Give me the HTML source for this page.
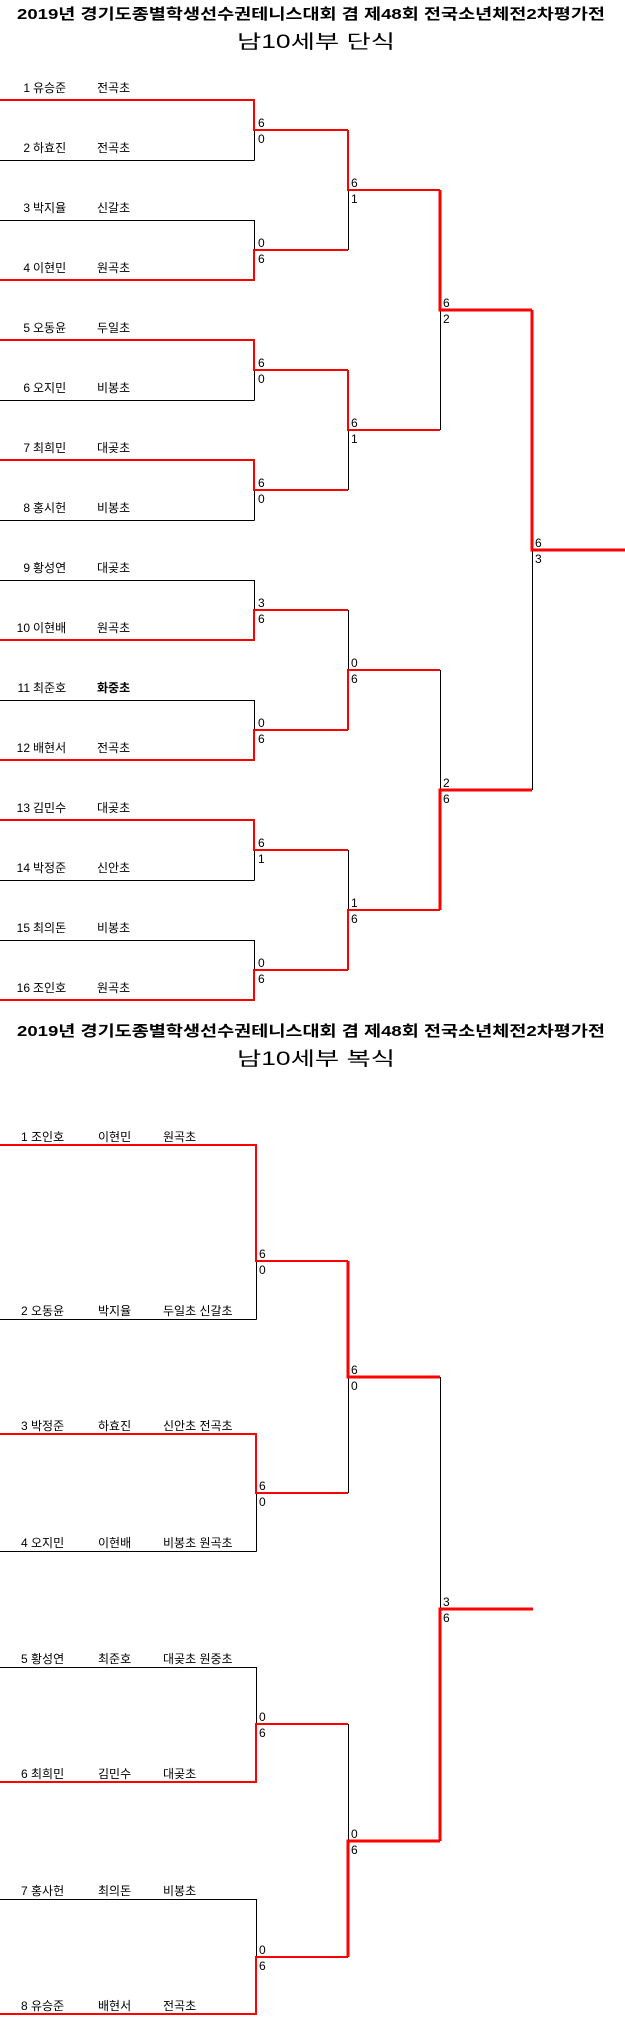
<!DOCTYPE html>
<html><head><meta charset="utf-8"><style>
html,body{margin:0;padding:0;background:#fff;}
svg{display:block;}
text{font-family:"Liberation Sans","Noto Sans CJK KR",sans-serif;font-size:12px;fill:#000;}
.t{font-size:15px;font-weight:bold;}
.s{font-size:19px;}
</style></head><body>
<svg width="625" height="2044" viewBox="0 0 625 2044" xmlns="http://www.w3.org/2000/svg" shape-rendering="crispEdges">
<!-- Singles titles -->
<text class="t" x="17" y="19" textLength="588" lengthAdjust="spacingAndGlyphs">2019년 경기도종별학생선수권테니스대회 겸 제48회 전국소년체전2차평가전</text>
<text class="s" x="237" y="48" textLength="158" lengthAdjust="spacingAndGlyphs">남10세부 단식</text>

<!-- Singles black lines -->
<g stroke="#000" stroke-width="1" fill="none">
<path d="M0 160.5H254.5M254.5 130V160.5"/>
<path d="M0 220.5H254.5M254.5 220V250"/>
<path d="M0 400.5H254.5M254.5 370V400.5"/>
<path d="M0 520.5H254.5M254.5 490V520.5"/>
<path d="M0 580.5H254.5M254.5 580V610"/>
<path d="M0 700.5H254.5M254.5 700V730"/>
<path d="M0 880.5H254.5M254.5 850V880.5"/>
<path d="M0 940.5H254.5M254.5 940V970"/>
<path d="M348.5 190V250"/>
<path d="M348.5 430V490"/>
<path d="M348.5 610V670"/>
<path d="M348.5 850V910"/>
<path d="M440.5 310V430"/>
<path d="M440.5 670V790"/>
<path d="M532.5 550V790"/>
</g>
<!-- Singles red lines -->
<g stroke="#f00" stroke-width="2" fill="none">
<path d="M0 100H254V130H348"/>
<path d="M0 280H254V250H348"/>
<path d="M0 340H254V370H348"/>
<path d="M0 460H254V490H348"/>
<path d="M0 640H254V610H348"/>
<path d="M0 760H254V730H348"/>
<path d="M0 820H254V850H348"/>
<path d="M0 1000H254V970H348"/>
<path d="M348 130V190H440"/>
<path d="M348 370V430H440"/>
<path d="M348 730V670H440"/>
<path d="M348 970V910H440"/>
</g>
<g stroke="#f00" stroke-width="3" fill="none">
<path d="M440 190V310H532"/>
<path d="M440 910V790H532"/>
<path d="M532 310V550H625"/>
</g>

<!-- Singles names -->
<g>
<text x="30" y="92" text-anchor="end">1</text><text x="33" y="92">유승준</text><text x="97" y="92">전곡초</text>
<text x="30" y="152" text-anchor="end">2</text><text x="33" y="152">하효진</text><text x="97" y="152">전곡초</text>
<text x="30" y="212" text-anchor="end">3</text><text x="33" y="212">박지율</text><text x="97" y="212">신갈초</text>
<text x="30" y="272" text-anchor="end">4</text><text x="33" y="272">이현민</text><text x="97" y="272">원곡초</text>
<text x="30" y="332" text-anchor="end">5</text><text x="33" y="332">오동윤</text><text x="97" y="332">두일초</text>
<text x="30" y="392" text-anchor="end">6</text><text x="33" y="392">오지민</text><text x="97" y="392">비봉초</text>
<text x="30" y="452" text-anchor="end">7</text><text x="33" y="452">최희민</text><text x="97" y="452">대곶초</text>
<text x="30" y="512" text-anchor="end">8</text><text x="33" y="512">홍시헌</text><text x="97" y="512">비봉초</text>
<text x="30" y="572" text-anchor="end">9</text><text x="33" y="572">황성연</text><text x="97" y="572">대곶초</text>
<text x="30" y="632" text-anchor="end">10</text><text x="33" y="632">이현배</text><text x="97" y="632">원곡초</text>
<text x="30" y="692" text-anchor="end">11</text><text x="33" y="692">최준호</text><text x="97" y="692" font-weight="bold">화중초</text>
<text x="30" y="752" text-anchor="end">12</text><text x="33" y="752">배현서</text><text x="97" y="752">전곡초</text>
<text x="30" y="812" text-anchor="end">13</text><text x="33" y="812">김민수</text><text x="97" y="812">대곶초</text>
<text x="30" y="872" text-anchor="end">14</text><text x="33" y="872">박정준</text><text x="97" y="872">신안초</text>
<text x="30" y="932" text-anchor="end">15</text><text x="33" y="932">최의돈</text><text x="97" y="932">비봉초</text>
<text x="30" y="992" text-anchor="end">16</text><text x="33" y="992">조인호</text><text x="97" y="992">원곡초</text>
</g>

<!-- Singles scores -->
<g>
<text x="258" y="127">6</text><text x="258" y="143">0</text>
<text x="258" y="247">0</text><text x="258" y="263">6</text>
<text x="258" y="367">6</text><text x="258" y="383">0</text>
<text x="258" y="487">6</text><text x="258" y="503">0</text>
<text x="258" y="607">3</text><text x="258" y="623">6</text>
<text x="258" y="727">0</text><text x="258" y="743">6</text>
<text x="258" y="847">6</text><text x="258" y="863">1</text>
<text x="258" y="967">0</text><text x="258" y="983">6</text>
<text x="351" y="187">6</text><text x="351" y="203">1</text>
<text x="351" y="427">6</text><text x="351" y="443">1</text>
<text x="351" y="667">0</text><text x="351" y="683">6</text>
<text x="351" y="907">1</text><text x="351" y="923">6</text>
<text x="443" y="307">6</text><text x="443" y="323">2</text>
<text x="443" y="787">2</text><text x="443" y="803">6</text>
<text x="535" y="547">6</text><text x="535" y="563">3</text>
</g>

<!-- Doubles titles -->
<text class="t" x="17" y="1036" textLength="588" lengthAdjust="spacingAndGlyphs">2019년 경기도종별학생선수권테니스대회 겸 제48회 전국소년체전2차평가전</text>
<text class="s" x="237" y="1065" textLength="158" lengthAdjust="spacingAndGlyphs">남10세부 복식</text>

<!-- Doubles black -->
<g stroke="#000" stroke-width="1" fill="none">
<path d="M0 1319.5H256.5M256.5 1261V1319.5"/>
<path d="M0 1551.5H256.5M256.5 1493V1551.5"/>
<path d="M0 1667.5H256.5M256.5 1667V1724"/>
<path d="M0 1899.5H256.5M256.5 1899V1957"/>
<path d="M348.5 1377V1493"/>
<path d="M348.5 1724V1841"/>
<path d="M440.5 1377V1609"/>
</g>
<g stroke="#f00" stroke-width="2" fill="none">
<path d="M0 1145H256V1261H348"/>
<path d="M0 1434H256V1493H348"/>
<path d="M0 1782H256V1724H348"/>
<path d="M0 2014H256V1957H348"/>
</g>
<g stroke="#f00" stroke-width="3" fill="none">
<path d="M348 1261V1377H440"/>
<path d="M348 1957V1841H440"/>
<path d="M440 1841V1609H533"/>
</g>

<!-- Doubles names -->
<g>
<text x="21" y="1141">1 조인호</text><text x="98" y="1141">이현민</text><text x="163" y="1141">원곡초</text>
<text x="21" y="1315">2 오동윤</text><text x="98" y="1315">박지율</text><text x="163" y="1315">두일초 신갈초</text>
<text x="21" y="1430">3 박정준</text><text x="98" y="1430">하효진</text><text x="163" y="1430">신안초 전곡초</text>
<text x="21" y="1547">4 오지민</text><text x="98" y="1547">이현배</text><text x="163" y="1547">비봉초 원곡초</text>
<text x="21" y="1663">5 황성연</text><text x="98" y="1663">최준호</text><text x="163" y="1663">대곶초 원중초</text>
<text x="21" y="1778">6 최희민</text><text x="98" y="1778">김민수</text><text x="163" y="1778">대곶초</text>
<text x="21" y="1895">7 홍사헌</text><text x="98" y="1895">최의돈</text><text x="163" y="1895">비봉초</text>
<text x="21" y="2010">8 유승준</text><text x="98" y="2010">배현서</text><text x="163" y="2010">전곡초</text>
</g>

<!-- Doubles scores -->
<g>
<text x="259" y="1258">6</text><text x="259" y="1274">0</text>
<text x="259" y="1490">6</text><text x="259" y="1506">0</text>
<text x="259" y="1721">0</text><text x="259" y="1737">6</text>
<text x="259" y="1954">0</text><text x="259" y="1970">6</text>
<text x="351" y="1374">6</text><text x="351" y="1390">0</text>
<text x="351" y="1838">0</text><text x="351" y="1854">6</text>
<text x="443" y="1606">3</text><text x="443" y="1622">6</text>
</g>
</svg>
</body></html>
